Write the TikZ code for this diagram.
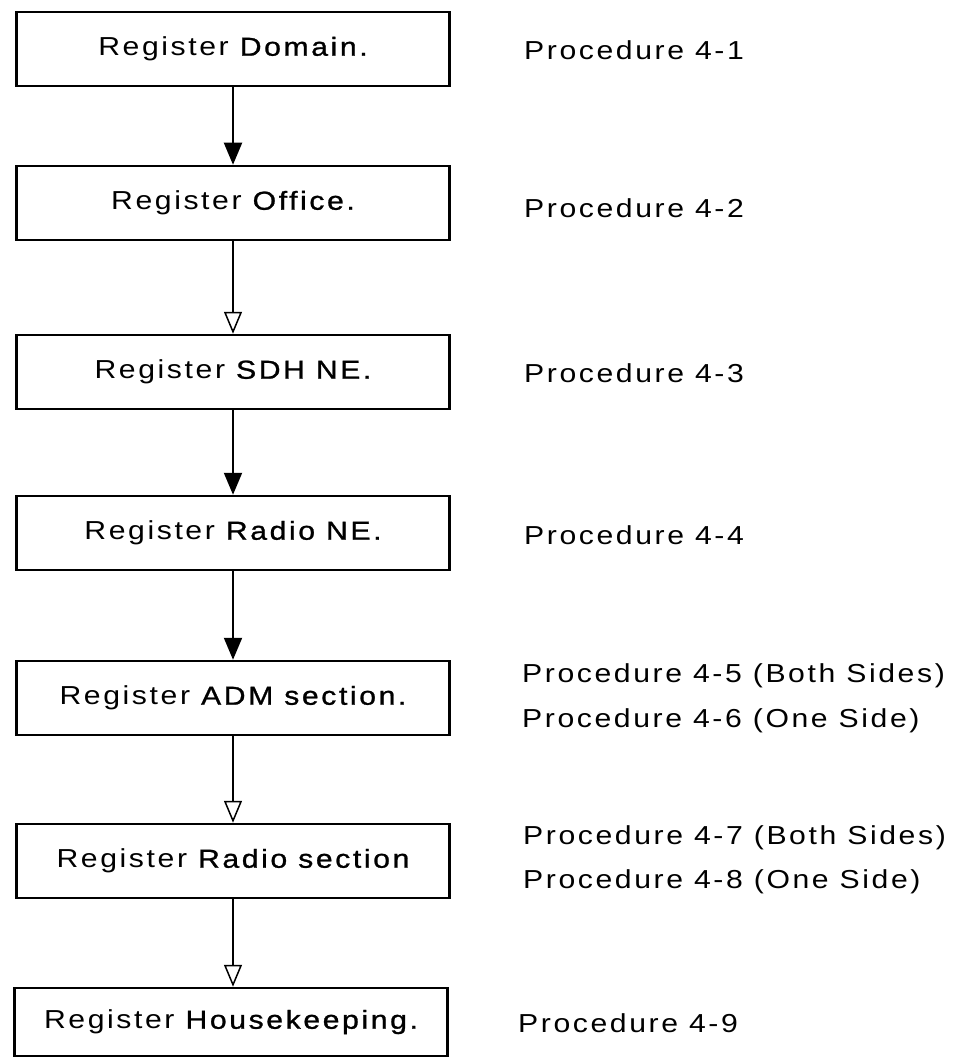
\documentclass[tikz,border=0pt]{standalone}
\usepackage{fontspec}
\setmainfont{Liberation Sans}[FakeStretch=1.16,LetterSpace=10]
\newfontfamily\heavy{Liberation Sans}[FakeStretch=1.16,LetterSpace=10,FakeBold=1]
\usetikzlibrary{arrows.meta}
\begin{document}
\begin{tikzpicture}[x=1pt,y=-1pt,
  stepbox/.style={draw=black,line width=2.5pt,minimum width=433pt,minimum height=74pt,inner sep=0pt,font=\fontsize{26}{31}\selectfont},
  proc/.style={anchor=west,inner sep=0pt,font=\fontsize{26}{31}\selectfont},
  flow/.style={line width=2pt,-{Triangle[length=22pt,width=18pt]}},
  flowopen/.style={line width=2pt,-{Triangle[open,length=22pt,width=18pt,fill=white,line width=1.5pt]}}]
\path[use as bounding box] (0,0) rectangle (962,1059);
\node[stepbox] (b1) at (233,49) {Register {\heavy Domain.}};
\node[stepbox] (b2) at (233,203) {Register {\heavy Office.}};
\node[stepbox] (b3) at (233,372) {Register {\heavy SDH NE.}};
\node[stepbox] (b4) at (233,533) {Register {\heavy Radio NE.}};
\node[stepbox] (b5) at (233,698) {Register {\heavy ADM section.}};
\node[stepbox] (b6) at (233,861) {Register {\heavy Radio section}};
\node[stepbox,minimum height=68pt] (b7) at (231,1022) {Register {\heavy Housekeeping.}};

\draw[flow] (b1.south) -- (b2.north);
\draw[flowopen] (b2.south) -- (b3.north);
\draw[flow] (b3.south) -- (b4.north);
\draw[flow] (b4.south) -- (b5.north);
\draw[flowopen] (b5.south) -- (b6.north);
\draw[flowopen] (b6.south) -- (b6.south |- b7.north);

\node[proc] (p1) at (524,50) {Procedure 4-1};
\node[proc] (p2) at (524,208) {Procedure 4-2};
\node[proc] (p3) at (524,373) {Procedure 4-3};
\node[proc] (p4) at (524,535) {Procedure 4-4};
\node[proc] (p5) at (522,676) {Procedure 4-5 (Both Sides)};
\node[proc] (p6) at (522,721) {Procedure 4-6 (One Side)};
\node[proc] (p7) at (523,838) {Procedure 4-7 (Both Sides)};
\node[proc] (p8) at (523,882) {Procedure 4-8 (One Side)};
\node[proc] (p9) at (518,1023) {Procedure 4-9};
\end{tikzpicture}
\end{document}
